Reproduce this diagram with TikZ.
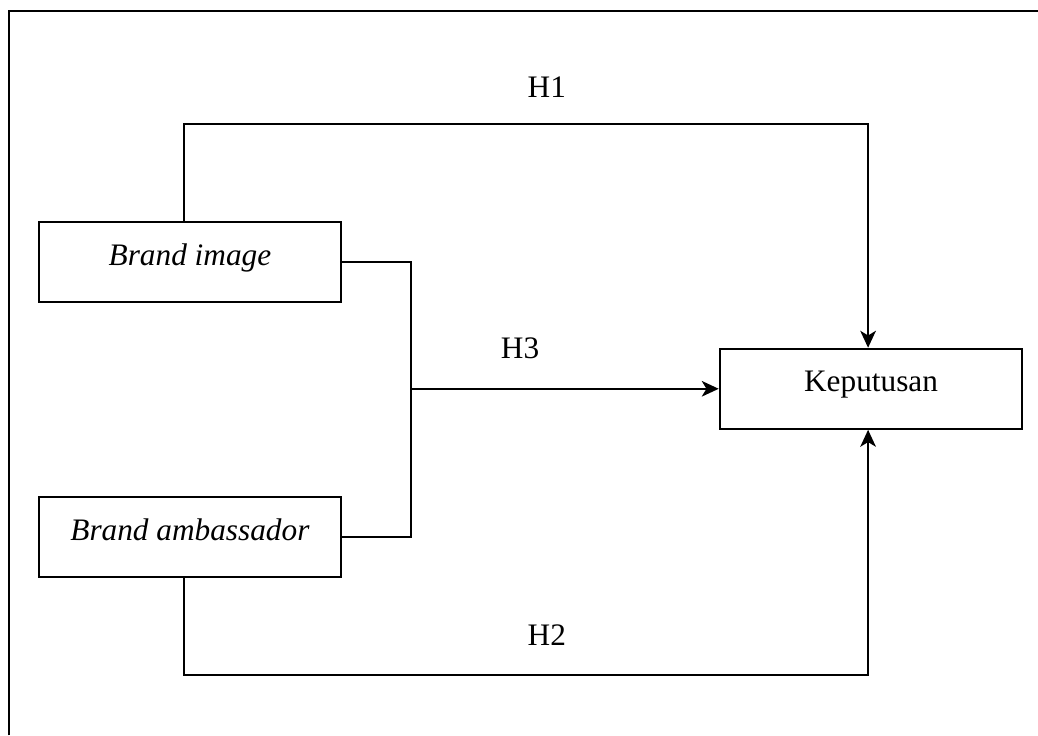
\documentclass[tikz,border=0pt]{standalone}
\usepackage{fontspec}
\setmainfont{Liberation Serif}
\usetikzlibrary{arrows.meta,positioning,calc}

\begin{document}
\begin{tikzpicture}[
      line width=0.75pt,
      arr/.style={-{Stealth[length=6.5pt,width=6pt,inset=1.8pt]}},
      varbox/.style={draw, align=center, minimum width=4.08cm, minimum height=1.08cm,
                     inner sep=2pt, text depth=0.55em, font=\fontsize{12}{14}\selectfont},
      hlabel/.style={font=\fontsize{12}{14}\selectfont}
    ]
    \useasboundingbox (0,0) rectangle (13.99,-9.91);
    % frame
    \draw[line width=0.9pt] (0.12,-9.91) -- (0.12,-0.15) -- (13.99,-0.15);
    \node[varbox] (img) at (2.56,-3.53) {\itshape Brand image};
    \node[varbox] (amb) at (2.56,-7.24) {\itshape Brand ambassador};
    \node[varbox] (kep) at (11.74,-5.24) {Keputusan};
    \draw[arr] ([xshift=-0.08cm]img.north) -- ++(0,1.31) -| ([xshift=-0.04cm]kep.north);
    \draw[arr] ([xshift=-0.08cm]amb.south) -- ++(0,-1.31) -| ([xshift=-0.04cm]kep.south);
    \draw (img.east) -- ++(0.92,0) coordinate (brk) |- (amb.east);
    \draw[arr] (brk |- kep.west) -- (kep.west);
    \node[hlabel] (h1) at (7.37,-1.17) {H1};
    \node[hlabel] (h3) at (7.01,-4.69) {H3};
    \node[hlabel] (h2) at (7.37,-8.56) {H2};
  \end{tikzpicture}
\end{document}
